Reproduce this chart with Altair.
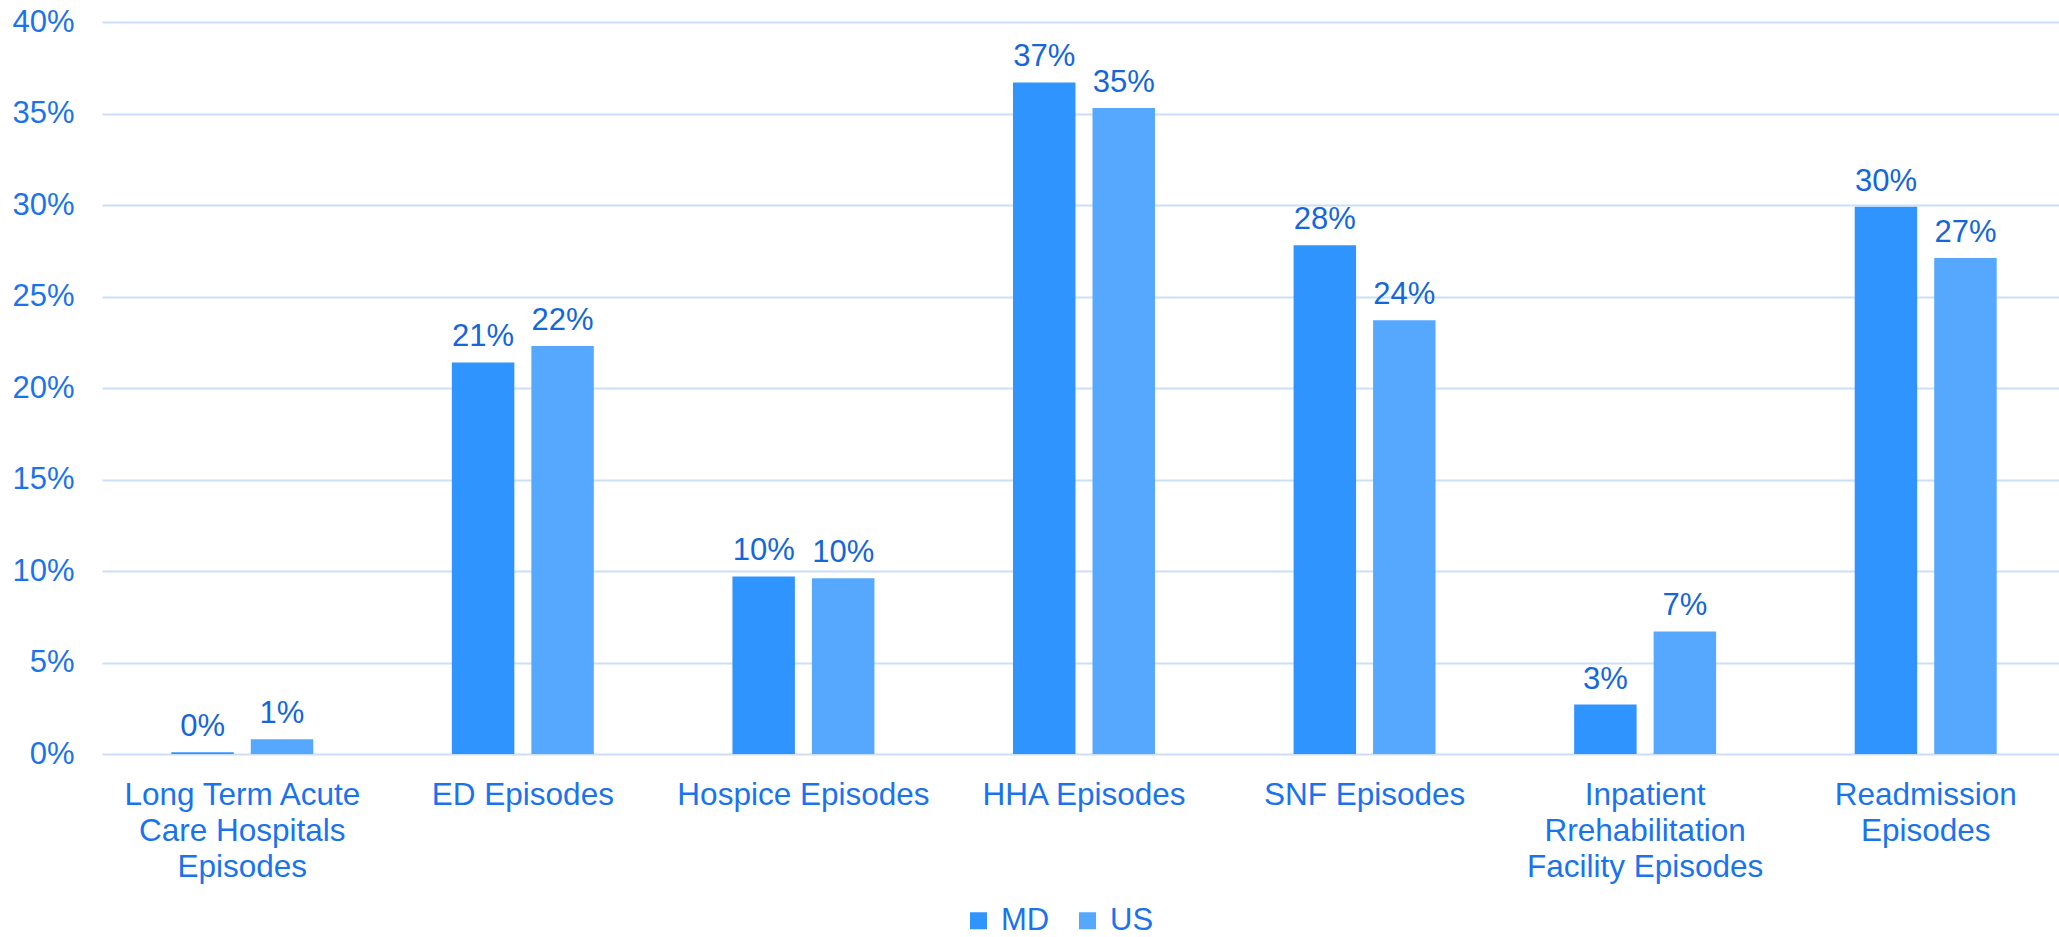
import altair as alt
import pandas as pd

categories = [
    "Long Term Acute\nCare Hospitals\nEpisodes",
    "ED Episodes",
    "Hospice Episodes",
    "HHA Episodes",
    "SNF Episodes",
    "Inpatient\nRrehabilitation\nFacility Episodes",
    "Readmission\nEpisodes",
]
md_values = [0.1, 21.4, 9.7, 36.7, 27.8, 2.7, 29.9]
us_values = [0.8, 22.3, 9.6, 35.3, 23.7, 6.7, 27.1]
series = ["MD", "US"]
y_ticks = [0, 5, 10, 15, 20, 25, 30, 35, 40]

rows = []
for c, m, u in zip(categories, md_values, us_values):
    rows.append({"category": c, "series": "MD", "value": m})
    rows.append({"category": c, "series": "US", "value": u})
df = pd.DataFrame(rows)

FONT = "Arial, Liberation Sans, sans-serif"
AXIS_BLUE = "#1A73EE"
LABEL_BLUE = "#1466DC"

base = alt.Chart(df).encode(
    x=alt.X(
        "category:N",
        sort=categories,
        scale=alt.Scale(paddingInner=0.494, paddingOuter=0.247, range=[0, 1964]),
        axis=alt.Axis(
            title=None,
            labelAngle=0,
            labelExpr="split(datum.label, '\\n')",
            labelFont=FONT,
            labelFontSize=31.5,
            labelColor=AXIS_BLUE,
            labelLineHeight=36,
            labelPadding=25,
            ticks=False,
            domain=False,
            grid=False,
            labelLimit=400,
        ),
    ),
    xOffset=alt.XOffset(
        "series:N",
        sort=series,
        scale=alt.Scale(paddingInner=0.214, paddingOuter=0),
    ),
)

bars = base.mark_bar().encode(
    y=alt.Y(
        "value:Q",
        scale=alt.Scale(domain=[0, 40], nice=False),
        axis=alt.Axis(
            title=None,
            values=y_ticks,
            labelExpr="datum.value + '%'",
            labelFont=FONT,
            labelFontSize=31,
            labelColor=AXIS_BLUE,
            labelPadding=28,
            ticks=False,
            domain=False,
            grid=True,
            gridColor="#CBDFFA",
            gridWidth=2,
        ),
    ),
    color=alt.Color(
        "series:N",
        sort=series,
        scale=alt.Scale(domain=series, range=["#3094FF", "#56A8FF"]),
        legend=alt.Legend(
            title=None,
            orient="none",
            legendX=861,
            legendY=883,
            direction="horizontal",
            symbolType="square",
            symbolSize=289,
            symbolStrokeWidth=0,
            labelFont=FONT,
            labelFontSize=31,
            labelColor=AXIS_BLUE,
            labelOffset=7,
            columnPadding=22,
        ),
    ),
)

labels = base.transform_calculate(
    lbl="format(datum.value, '.0f') + '%'"
).mark_text(
    font=FONT, fontSize=31, color=LABEL_BLUE, baseline="alphabetic", dy=-16
).encode(
    y=alt.Y("value:Q"),
    text=alt.Text("lbl:N"),
)

chart = (
    alt.layer(bars, labels)
    .properties(
        width=1957,
        height=732,
        autosize=alt.AutoSizeParams(type="none"),
        padding={"left": 102, "top": 22, "right": 0, "bottom": 183},
        background="white",
    )
    .configure_view(stroke=None)
)

chart.save("out.html", embed_options={"renderer": "svg", "actions": False})
